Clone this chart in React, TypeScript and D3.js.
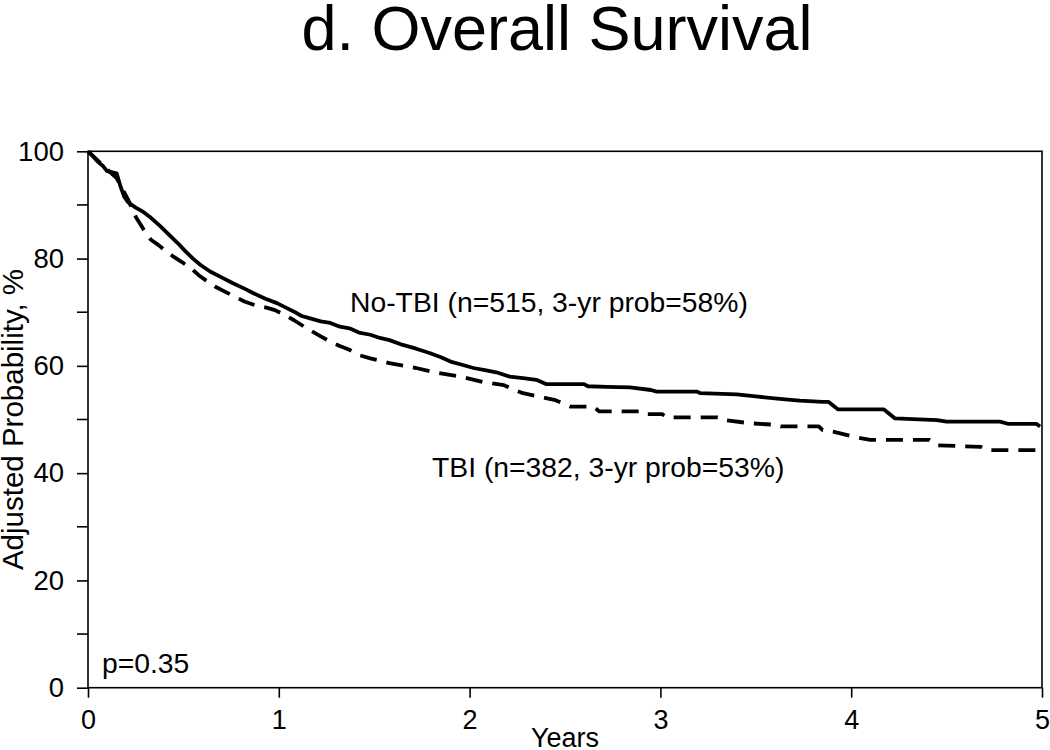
import React, { useRef, useEffect } from 'react';
import * as d3 from 'd3';

// No-TBI (solid) adjusted survival
const noTbiYears = [0, 0.02, 0.04, 0.06, 0.08, 0.1, 0.15, 0.17, 0.19, 0.21, 0.25, 0.29, 0.33, 0.38, 0.42, 0.47, 0.51, 0.55, 0.59, 0.64, 0.7, 0.76, 0.82, 0.87, 0.93, 0.99, 1.04, 1.08, 1.12, 1.16, 1.22, 1.27, 1.32, 1.37, 1.42, 1.48, 1.53, 1.58, 1.65, 1.72, 1.79, 1.85, 1.9, 1.96, 2.02, 2.08, 2.14, 2.21, 2.28, 2.35, 2.4, 2.6, 2.62, 2.72, 2.84, 2.95, 2.98, 3.19, 3.21, 3.4, 3.5, 3.64, 3.73, 3.85, 3.88, 3.93, 4.17, 4.23, 4.45, 4.5, 4.78, 4.82, 4.97, 4.99];
const noTbiProb = [100, 99.3, 98.5, 97.8, 97.2, 96.3, 95.9, 93.5, 91.5, 90.5, 89.5, 88.7, 87.6, 86.0, 84.6, 82.9, 81.4, 80.0, 78.8, 77.6, 76.5, 75.4, 74.4, 73.5, 72.5, 71.7, 70.8, 70.1, 69.3, 68.9, 68.3, 68.0, 67.3, 67.0, 66.2, 65.8, 65.2, 64.8, 63.9, 63.2, 62.4, 61.6, 60.8, 60.2, 59.6, 59.2, 58.8, 58.0, 57.7, 57.4, 56.6, 56.6, 56.2, 56.1, 56.0, 55.5, 55.2, 55.2, 54.9, 54.7, 54.3, 53.8, 53.5, 53.3, 53.3, 51.9, 51.9, 50.2, 49.9, 49.6, 49.6, 49.2, 49.2, 48.7];

// TBI (dashed)
const tbiYears = [0, 0.03, 0.06, 0.09, 0.12, 0.15, 0.18, 0.21, 0.25, 0.29, 0.33, 0.37, 0.4, 0.45, 0.49, 0.54, 0.58, 0.62, 0.665, 0.72, 0.77, 0.82, 0.875, 0.93, 0.98, 1.03, 1.08, 1.16, 1.22, 1.27, 1.32, 1.37, 1.42, 1.48, 1.58, 1.72, 1.83, 1.95, 2.07, 2.18, 2.23, 2.28, 2.4, 2.45, 2.53, 2.65, 2.68, 2.89, 2.91, 3.01, 3.03, 3.3, 3.33, 3.47, 3.61, 3.63, 3.83, 3.85, 3.91, 4.01, 4.1, 4.41, 4.45, 4.68, 4.71, 5.0];
const tbiProb = [100, 99.0, 98.0, 97.0, 96.0, 95.0, 93.0, 91.0, 87.8, 85.5, 83.5, 82.5, 81.6, 80.3, 79.4, 78.2, 76.9, 75.9, 74.8, 73.8, 72.9, 72.0, 71.3, 70.9, 70.4, 69.5, 68.5, 66.7, 65.5, 64.5, 63.7, 63.0, 62.0, 61.4, 60.5, 59.6, 58.7, 58.0, 57.0, 56.4, 55.6, 54.9, 54.0, 53.6, 52.4, 52.4, 51.5, 51.5, 51.0, 51.0, 50.4, 50.4, 49.9, 49.3, 49.0, 48.7, 48.7, 48.0, 47.7, 46.8, 46.2, 46.2, 45.2, 44.9, 44.3, 44.3];

const xTicks = [0, 1, 2, 3, 4, 5];
const yMajorTicks = [0, 20, 40, 60, 80, 100];
const yMinorTicks = [10, 30, 50, 70, 90];

const FONT = '"Liberation Sans", Arial, sans-serif';

const App = () => {
  const svgRef = useRef<SVGSVGElement>(null);
  const width = 1050;
  const height = 750;

  useEffect(() => {
    const svg = d3.select(svgRef.current);
    svg.selectAll('*').remove();

    // plot area
    const margin = { top: 151.3, right: 8, bottom: 62.3, left: 88 };
    const x = d3.scaleLinear().domain([0, 5]).range([margin.left, width - margin.right]);
    const y = d3.scaleLinear().domain([0, 100]).range([height - margin.bottom, margin.top]);

    // title
    svg.append('text')
      .attr('x', 557)
      .attr('y', 50)
      .attr('text-anchor', 'middle')
      .style('font-family', FONT)
      .style('font-size', '63px')
      .text('d. Overall Survival');

    // frame
    svg.append('rect')
      .attr('x', x(0))
      .attr('y', y(100))
      .attr('width', x(5) - x(0))
      .attr('height', y(0) - y(100))
      .attr('fill', 'none')
      .attr('stroke', '#000')
      .attr('stroke-width', 1.6);

    // x axis
    const xAxis = svg.append('g')
      .attr('transform', `translate(0,${y(0)})`)
      .call(d3.axisBottom(x).tickValues(xTicks).tickSize(10).tickPadding(12).tickFormat(d3.format('d')));
    xAxis.select('.domain').remove();
    xAxis.selectAll('line').attr('stroke-width', 1.6);
    xAxis.selectAll('text').style('font-family', FONT).style('font-size', '27px').attr('fill', '#000');

    // y axis
    const yAxis = svg.append('g')
      .attr('transform', `translate(${x(0)},0)`)
      .call(d3.axisLeft(y).tickValues(yMajorTicks).tickSize(11).tickPadding(13).tickFormat(d3.format('d')));
    yAxis.select('.domain').remove();
    yAxis.selectAll('line').attr('stroke-width', 1.6);
    yAxis.selectAll('text').style('font-family', FONT).style('font-size', '27.5px').attr('fill', '#000');

    // minor y ticks
    svg.append('g')
      .selectAll('line')
      .data(yMinorTicks)
      .join('line')
      .attr('x1', x(0) - 11)
      .attr('x2', x(0))
      .attr('y1', d => y(d))
      .attr('y2', d => y(d))
      .attr('stroke', '#000')
      .attr('stroke-width', 1.6);

    // axis labels
    svg.append('text')
      .attr('x', x(2.5))
      .attr('y', 747)
      .attr('text-anchor', 'middle')
      .style('font-family', FONT)
      .style('font-size', '27px')
      .text('Years');

    svg.append('text')
      .attr('transform', `translate(23,${(y(0) + y(100)) / 2}) rotate(-90)`)
      .attr('text-anchor', 'middle')
      .style('font-family', FONT)
      .style('font-size', '29.5px')
      .text('Adjusted Probability, %');

    // survival curves
    const line = d3.line<[number, number]>()
      .x(d => x(d[0]))
      .y(d => y(d[1]));

    const noTbi = noTbiYears.map((t, i) => [t, noTbiProb[i]] as [number, number]);
    const tbi = tbiYears.map((t, i) => [t, tbiProb[i]] as [number, number]);

    svg.append('path')
      .datum(tbi)
      .attr('fill', 'none')
      .attr('stroke', '#000')
      .attr('stroke-width', 3.8)
      .attr('stroke-linejoin', 'round')
      .attr('stroke-dasharray', '17,10')
      .attr('d', line);

    svg.append('path')
      .datum(noTbi)
      .attr('fill', 'none')
      .attr('stroke', '#000')
      .attr('stroke-width', 3.8)
      .attr('stroke-linejoin', 'round')
      .attr('d', line);

    // annotations
    const notes = [
      { x: 350, y: 312, text: 'No-TBI (n=515, 3-yr prob=58%)' },
      { x: 432, y: 477, text: 'TBI (n=382, 3-yr prob=53%)' },
      { x: 102, y: 673, text: 'p=0.35' },
    ];
    svg.append('g')
      .selectAll('text')
      .data(notes)
      .join('text')
      .attr('x', d => d.x)
      .attr('y', d => d.y)
      .style('font-family', FONT)
      .style('font-size', '28.3px')
      .text(d => d.text);
  }, []);

  return (
    <svg
      ref={svgRef}
      width={width}
      height={height}
      style={{ position: 'absolute', left: 0, top: 0, background: '#fff' }}
    />
  );
};

export default App;
